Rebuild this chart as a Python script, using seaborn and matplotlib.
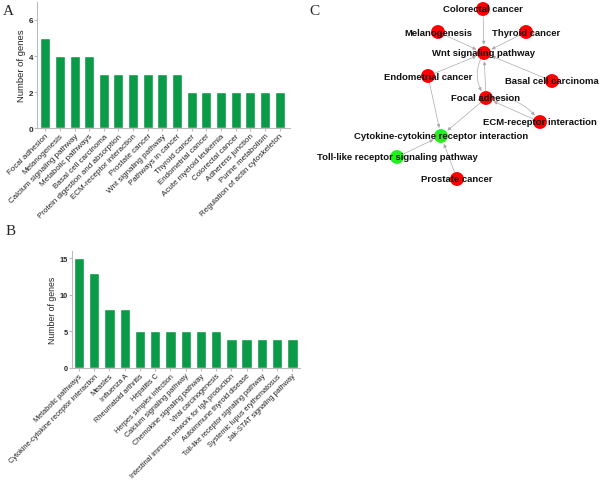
import pandas as pd
import matplotlib
matplotlib.use("Agg")
import matplotlib.pyplot as plt
import seaborn as sns

# Panel A data
terms_a = ["Focal adhesion", "Melanogenesis", "Calcium signaling pathway",
           "Metabolic pathways", "Basal cell carcinoma",
           "Protein digestion and absorption", "ECM-receptor interaction",
           "Prostate cancer", "Wnt signaling pathway", "Pathways in cancer",
           "Thyroid cancer", "Endometrial cancer", "Acute myeloid leukemia",
           "Colorectal cancer", "Adherens junction", "Purine metabolism",
           "Regulation of actin cytoskeleton"]
genes_a = [5, 4, 4, 4, 3, 3, 3, 3, 3, 3, 2, 2, 2, 2, 2, 2, 2]

# Panel B data
terms_b = ["Metabolic pathways", "Cytokine-cytokine receptor interaction",
           "Measles", "Influenza A", "Rheumatoid arthritis", "Hepatitis C",
           "Herpes simplex infection", "Calcium signaling pathway",
           "Chemokine signaling pathway", "Viral carcinogenesis",
           "Intestinal immune network for IgA production",
           "Autoimmune thyroid disease", "Toll-like receptor signaling pathway",
           "Systemic lupus erythematosus", "Jak-STAT signaling pathway"]
genes_b = [15, 13, 8, 8, 5, 5, 5, 5, 5, 5, 4, 4, 4, 4, 4]

# Panel C network
nodes = ["Colorectal cancer", "Melanogenesis", "Thyroid cancer",
         "Wnt signaling pathway", "Endometrial cancer", "Basal cell carcinoma",
         "Focal adhesion", "ECM-receptor interaction",
         "Cytokine-cytokine receptor interaction",
         "Toll-like receptor signaling pathway", "Prostate cancer"]
green_nodes = ["Cytokine-cytokine receptor interaction",
               "Toll-like receptor signaling pathway"]
edges = [("Colorectal cancer", "Wnt signaling pathway", 0),
         ("Melanogenesis", "Wnt signaling pathway", 0),
         ("Thyroid cancer", "Wnt signaling pathway", 0),
         ("Basal cell carcinoma", "Wnt signaling pathway", 0),
         ("Endometrial cancer", "Wnt signaling pathway", 0),
         ("Focal adhesion", "Wnt signaling pathway", 0),
         ("Wnt signaling pathway", "Focal adhesion", 0.35),
         ("Focal adhesion", "ECM-receptor interaction", -0.3),
         ("ECM-receptor interaction", "Focal adhesion", 0),
         ("Endometrial cancer", "Cytokine-cytokine receptor interaction", 0),
         ("Focal adhesion", "Cytokine-cytokine receptor interaction", 0),
         ("Toll-like receptor signaling pathway", "Cytokine-cytokine receptor interaction", 0),
         ("Prostate cancer", "Cytokine-cytokine receptor interaction", 0)]

# layout (pixel coords of the panel)
layout = {"Colorectal cancer": (483, 10), "Melanogenesis": (438, 33),
          "Thyroid cancer": (526, 33), "Wnt signaling pathway": (484, 54),
          "Endometrial cancer": (428, 77), "Basal cell carcinoma": (552, 82),
          "Focal adhesion": (486, 99), "ECM-receptor interaction": (540, 123),
          "Cytokine-cytokine receptor interaction": (441, 137),
          "Toll-like receptor signaling pathway": (397, 158),
          "Prostate cancer": (457, 180)}

sns.set_style("ticks")
plt.rcParams["font.family"] = ["Liberation Sans", "DejaVu Sans"]
bar_color = "#0a9a48"

fig = plt.figure(figsize=(6, 4.89), dpi=100)


def bar_panel(rect, terms, genes, ylim, yticks, xlim, fs):
    ax = fig.add_axes(rect)
    df = pd.DataFrame({"term": terms, "genes": genes})
    sns.barplot(data=df, x="term", y="genes", color=bar_color, width=0.68,
                saturation=1, ax=ax)
    ax.set_ylim(*ylim)
    ax.set_xlim(*xlim)
    ax.set_yticks(yticks)
    ax.set_xlabel("")
    ax.set_ylabel("Number of genes", fontsize=fs + 1.0, labelpad=2)
    ax.set_xticks(range(len(terms)))
    ax.set_xticklabels(terms, rotation=45, ha="right", rotation_mode="anchor",
                       fontsize=fs, color="#222222")
    ax.tick_params(axis="y", labelsize=fs, length=2, pad=1, color="#bbbbbb")
    ax.tick_params(axis="x", length=2, pad=1, color="#bbbbbb")
    for t in ax.get_yticklabels():
        t.set_fontweight("bold")
    sns.despine(ax=ax)
    for s in ["left", "bottom"]:
        ax.spines[s].set_color("#bbbbbb")
        ax.spines[s].set_linewidth(0.8)
    return ax


bar_panel([0.062, 0.736, 0.421, 0.258], terms_a, genes_a, (0, 7), [0, 2, 4, 6],
          (-0.55, 16.7), 5.8)
bar_panel([0.12, 0.2454, 0.38, 0.2393], terms_b, genes_b, (0, 16), [0, 5, 10, 15],
          (-0.46, 14.5), 5.3)

# network panel
axc = fig.add_axes([0.5, 1 - 230 / 489, 0.5, 230 / 489])
axc.set_xlim(300, 600)
axc.set_ylim(230, 0)
axc.axis("off")

for src, dst, rad in edges:
    axc.annotate("", xy=layout[dst], xytext=layout[src],
                 arrowprops=dict(arrowstyle="-|>", color="#aaaaaa", lw=0.5,
                                 mutation_scale=5, shrinkA=5, shrinkB=6,
                                 connectionstyle=f"arc3,rad={rad}"))

pos = pd.DataFrame([(n, *layout[n]) for n in nodes], columns=["node", "x", "y"])
pos["kind"] = ["green" if n in green_nodes else "red" for n in nodes]
sns.scatterplot(data=pos, x="x", y="y", hue="kind",
                palette={"red": "#ff0000", "green": "#22ee22"}, s=100,
                edgecolor="none", legend=False, ax=axc, zorder=3)
axc.set_xlabel("")
axc.set_ylabel("")
for n in nodes:
    x, y = layout[n]
    axc.text(x, y, n, ha="center", va="center", fontsize=6.8,
             fontweight="bold", color="#111111", zorder=4)

fig.text(0.005, 0.99, "A", family="Liberation Serif", fontsize=11, va="top")
fig.text(0.01, 0.54, "B", family="Liberation Serif", fontsize=11, va="top")
fig.text(0.515, 0.99, "C", family="Liberation Serif", fontsize=11, va="top")

fig.savefig("out.png", dpi=100)
